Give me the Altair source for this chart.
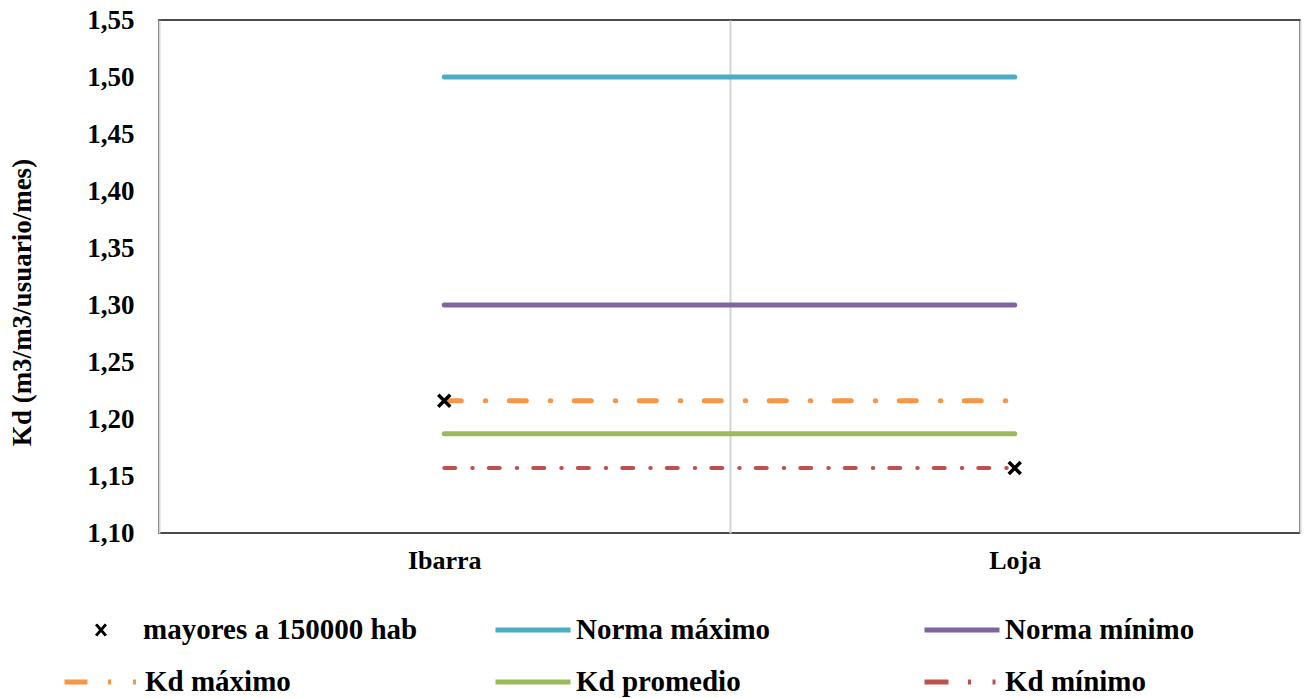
import altair as alt
import pandas as pd

# ---- data ----
ciudades = ["Ibarra", "Loja"]
series = ["mayores a 150000 hab", "Norma máximo", "Norma mínimo",
          "Kd máximo", "Kd promedio", "Kd mínimo"]
colores = ["#000000", "#4BACC6", "#8064A2", "#F79646", "#9BBB59", "#C0504D"]

norma_maximo = [1.50, 1.50]
norma_minimo = [1.30, 1.30]
kd_maximo = [1.216, 1.216]
kd_promedio = [1.187, 1.187]
kd_minimo = [1.157, 1.157]
mayores_150000 = [1.216, 1.157]

y_ticks = [1.10, 1.15, 1.20, 1.25, 1.30, 1.35, 1.40, 1.45, 1.50, 1.55]

# ---- styles ----
XPATH = "M-0.16,-0.16L0.16,0.16M-0.16,0.16L0.16,-0.16"
XPATH_LEG = "M-0.13,-0.15L0.13,0.15M-0.13,0.15L0.13,-0.15"
FONT = "Liberation Serif"
# legend slot positions (relative to plot origin)
slot_x = [-97, 334, 763, -97, 334, 763]
slot_y = [595, 595, 595, 647, 647, 647]
dashes = [None, None, None, [17, 24, 0.5, 23.5], None, [11, 17, 0.5, 16]]
leg_dashes = [None, None, None, [23, 20.5, 3, 22, 3, 10], None,
              [24, 19.5, 3, 21.5, 3, 10]]
widths = [3.5, 5, 5, 5, 5, 4]
leg_widths = [3, 5, 5, 5, 5, 5]


def legend_for(i, symbol_type):
    kw = dict(
        title=None, orient="none", legendX=slot_x[i], legendY=slot_y[i],
        clipHeight=30, symbolSize=5625, symbolStrokeWidth=leg_widths[i],
        symbolType=symbol_type, labelFont=FONT, labelFontSize=29,
        labelFontWeight="bold", labelColor="#000000", labelOffset=3,
        labelLimit=600, padding=0,
    )
    if leg_dashes[i] is not None:
        kw["symbolDash"] = leg_dashes[i]
    return alt.Legend(**kw)


x_enc = alt.X(
    "ciudad:N", sort=ciudades,
    scale=alt.Scale(type="band", paddingInner=0, paddingOuter=0),
    axis=alt.Axis(title=None, labelAngle=0, grid=True, tickBand="extent",
                  ticks=False, domain=False, gridColor="#d4d4d4", gridWidth=2,
                  labelFont=FONT, labelFontSize=26, labelFontWeight="bold",
                  labelColor="#000000", labelPadding=14),
)
y_enc = alt.Y(
    "valor:Q",
    scale=alt.Scale(domain=[1.10, 1.55], nice=False, zero=False),
    axis=alt.Axis(values=y_ticks,
                  labelExpr="replace(format(datum.value, '.2f'), '.', ',')",
                  grid=False, ticks=False, domain=False,
                  labelFont=FONT, labelFontSize=27, labelFontWeight="bold",
                  labelColor="#000000", labelPadding=25,
                  title="Kd (m3/m3/usuario/mes)", titleFont=FONT,
                  titleFontSize=27, titleFontWeight="bold", titleColor="#000000",
                  titleX=-137, titleY=282, titleAngle=270,
                  titleAlign="center", titleBaseline="middle"),
)

line_values = [None, norma_maximo, norma_minimo, kd_maximo, kd_promedio, kd_minimo]
layers = []
for i in range(1, 6):
    df = pd.DataFrame({"ciudad": ciudades, "valor": line_values[i],
                       "serie": [series[i]] * len(ciudades)})
    mark_kw = dict(strokeWidth=widths[i], strokeCap="round")
    if dashes[i] is not None:
        mark_kw["strokeDash"] = dashes[i]
    layers.append(
        alt.Chart(df).mark_line(**mark_kw).encode(
            x=x_enc, y=y_enc,
            color=alt.Color("serie:N",
                            scale=alt.Scale(domain=[series[i]], range=[colores[i]]),
                            legend=legend_for(i, "stroke")),
        )
    )

df_pts = pd.DataFrame({"ciudad": ciudades, "valor": mayores_150000,
                       "serie": [series[0]] * len(ciudades)})
points = alt.Chart(df_pts).mark_point(
    shape=XPATH, size=5625, filled=False, strokeWidth=widths[0], opacity=1
).encode(
    x=x_enc, y=y_enc,
    color=alt.Color("serie:N", scale=alt.Scale(domain=[series[0]], range=[colores[0]]),
                    legend=legend_for(0, XPATH_LEG)),
)
layers.append(points)

chart = alt.layer(*layers).resolve_scale(color="independent").properties(
    width=1141, height=513,
    autosize=alt.AutoSizeParams(type="none"),
    padding={"left": 159, "top": 20, "right": 6, "bottom": 165},
    background="#ffffff",
).configure_view(stroke="#111111", strokeWidth=1.5)

chart.save("out.html", embed_options={"renderer": "svg", "actions": False})
